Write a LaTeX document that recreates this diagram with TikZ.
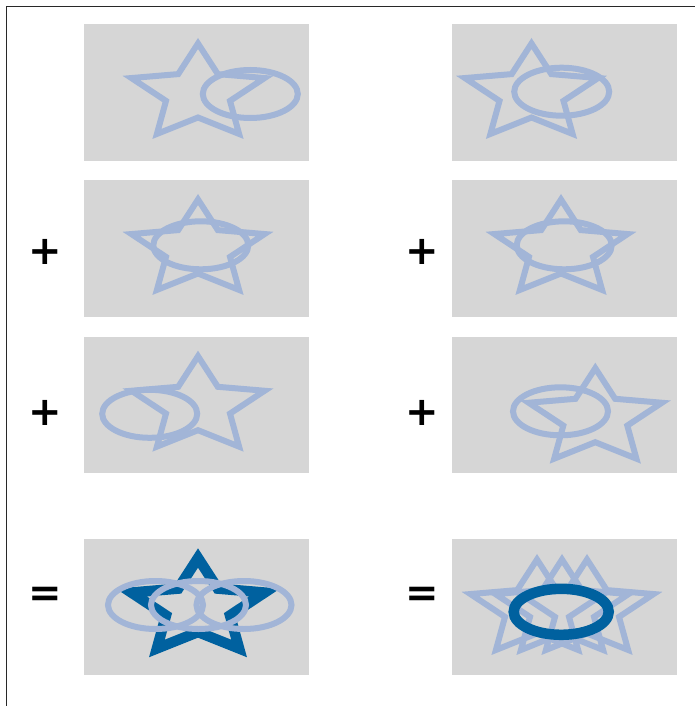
\documentclass[tikz,border=0pt]{standalone}
\usepackage{fontspec}
\newfontfamily\symfont{DejaVu Sans}[BoldFont={DejaVu Sans Bold}]
\definecolor{lightblue}{RGB}{162,181,215}
\definecolor{darkblue}{RGB}{0,97,159}
\definecolor{panelgray}{RGB}{214,214,214}
\definecolor{framegray}{RGB}{40,40,40}
\tikzset{
  lightline/.style={draw=lightblue,line width=6pt},
  darkline/.style={draw=darkblue,line width=10.5pt},
  panel/.style={fill=panelgray},
  sym/.style={font=\symfont\bfseries\fontsize{40}{42}\selectfont,inner sep=0pt},
  frameline/.style={draw=framegray,line width=1.5pt},
  pics/starshape/.style={code={
    \draw (0,-50) -- (19.8,-19.4) -- (66.6,-15.45) -- (32,7.4) -- (41.1,40.45)
      -- (0,24) -- (-41.1,40.45) -- (-32,7.4) -- (-66.6,-15.45) -- (-19.8,-19.4) -- cycle;
  }},
  pics/ellshape/.style={code={
    \draw (0,0) ellipse [x radius=47.5pt, y radius=24pt];
  }},
}
\begin{document}
\begin{tikzpicture}[x=1pt,y=-1pt]
\useasboundingbox (0,0) rectangle (695,706);
% frame
\draw[frameline] (6.5,706) -- (6.5,6.5) -- (695,6.5);
% panels
\foreach \px in {84,452}{
  \fill[panel] (\px,24) rectangle ++(225,136.5);
  \fill[panel] (\px,180) rectangle ++(225,136.5);
  \fill[panel] (\px,336.7) rectangle ++(225,136.5);
  \fill[panel] (\px,539) rectangle ++(225,135.7);
}
% left column
\pic[lightline] at (198,93.5) {starshape};
\pic[lightline] at (250.3,94) {ellshape};
\pic[lightline] at (198,249.5) {starshape};
\pic[lightline] at (200.8,245.3) {ellshape};
\pic[lightline] at (198,406.2) {starshape};
\pic[lightline] at (149.7,413.8) {ellshape};
\pic[darkline] at (198,608) {starshape};
\pic[lightline] at (155.5,605) {ellshape};
\pic[lightline] at (198.5,605) {ellshape};
\pic[lightline] at (244,605) {ellshape};
% right column
\pic[lightline] at (531.5,93.5) {starshape};
\pic[lightline] at (561.7,91.7) {ellshape};
\pic[lightline] at (561,249.5) {starshape};
\pic[lightline] at (564.2,245.3) {ellshape};
\pic[lightline] at (595.3,418.2) {starshape};
\pic[lightline] at (560.5,411.3) {ellshape};
\pic[lightline] at (537,609.5) {starshape};
\pic[lightline] at (562,609.5) {starshape};
\pic[lightline] at (587,609.5) {starshape};
\draw[darkline] (561.2,611.8) ellipse [x radius=47.5pt, y radius=23pt];
% symbols
\node[sym] (plusL2) at (45,252) {+};
\node[sym] (plusL3) at (45,413.3) {+};
\node[sym] (eqL) at (45,596.5) {=};
\node[sym] (plusR2) at (422.5,252) {+};
\node[sym] (plusR3) at (422.5,413.3) {+};
\node[sym] (eqR) at (422.5,596.5) {=};
\end{tikzpicture}
\end{document}
